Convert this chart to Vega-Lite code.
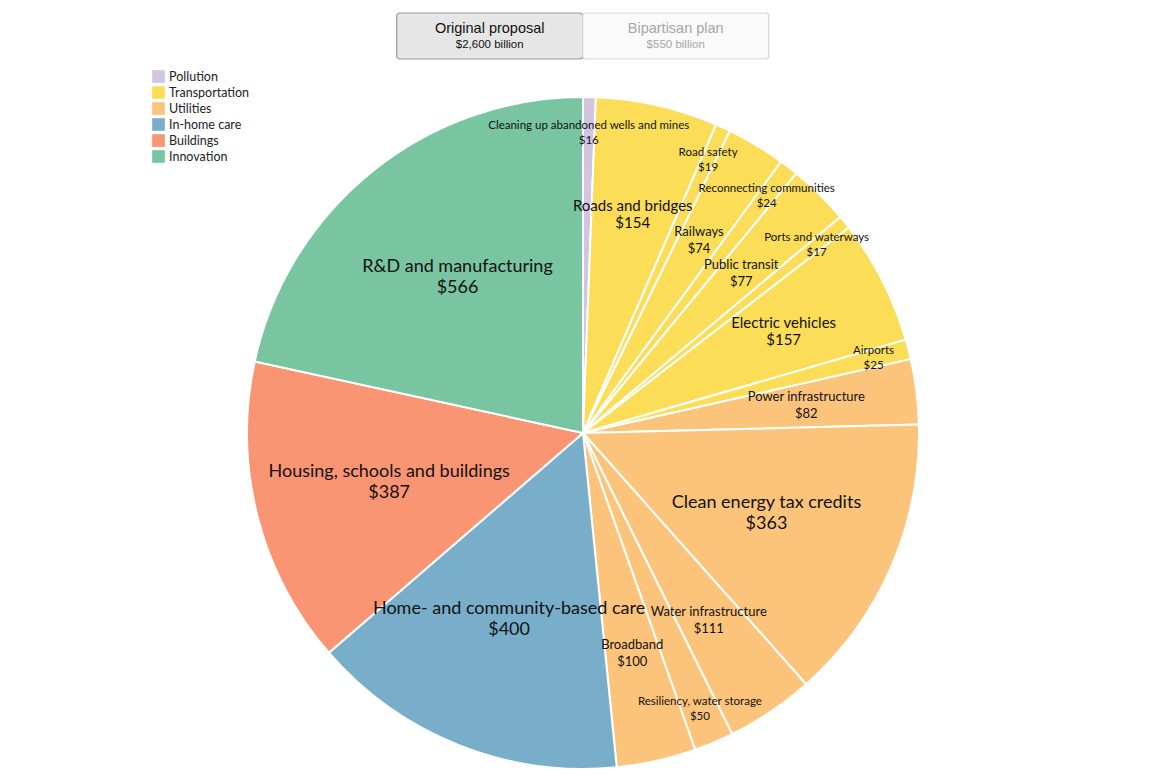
{
  "$schema": "https://vega.github.io/schema/vega-lite/v6.json",
  "padding": {"top": 12, "left": 8, "right": 5, "bottom": 5},
  "background": "white",
  "config": {"view": {"stroke": null}, "font": "Lato", "concat": {"spacing": 30}},
  "center": true,
  "datasets": {
    "plans": [
      {"plan": "Original proposal", "total": "$2,600 billion", "selected": true},
      {"plan": "Bipartisan plan", "total": "$550 billion", "selected": false}
    ],
    "items": [
      {"rank": 1, "category": "Pollution", "item": "Cleaning up abandoned wells and mines", "value": 16},
      {"rank": 2, "category": "Transportation", "item": "Roads and bridges", "value": 154},
      {"rank": 3, "category": "Transportation", "item": "Road safety", "value": 19},
      {"rank": 4, "category": "Transportation", "item": "Railways", "value": 74},
      {"rank": 5, "category": "Transportation", "item": "Reconnecting communities", "value": 24},
      {"rank": 6, "category": "Transportation", "item": "Public transit", "value": 77},
      {"rank": 7, "category": "Transportation", "item": "Ports and waterways", "value": 17},
      {"rank": 8, "category": "Transportation", "item": "Electric vehicles", "value": 157},
      {"rank": 9, "category": "Transportation", "item": "Airports", "value": 25},
      {"rank": 10, "category": "Utilities", "item": "Power infrastructure", "value": 82},
      {"rank": 11, "category": "Utilities", "item": "Clean energy tax credits", "value": 363},
      {"rank": 12, "category": "Utilities", "item": "Water infrastructure", "value": 111},
      {"rank": 13, "category": "Utilities", "item": "Resiliency, water storage", "value": 50},
      {"rank": 14, "category": "Utilities", "item": "Broadband", "value": 100},
      {"rank": 15, "category": "In-home care", "item": "Home- and community-based care", "value": 400},
      {"rank": 16, "category": "Buildings", "item": "Housing, schools and buildings", "value": 387},
      {"rank": 17, "category": "Innovation", "item": "R&D and manufacturing", "value": 566}
    ]
  },
  "vconcat": [
    {
      "width": 372,
      "height": 46,
      "data": {"name": "plans"},
      "encoding": {
        "x": {"field": "plan", "type": "nominal", "sort": null, "axis": null,
              "scale": {"paddingInner": 0, "paddingOuter": 0}}
      },
      "layer": [
        {
          "mark": {"type": "rect", "cornerRadius": 3, "strokeWidth": 1.2},
          "encoding": {
            "fill": {"condition": {"test": "datum.selected", "value": "#e6e6e6"}, "value": "#fafafa"},
            "stroke": {"condition": {"test": "datum.selected", "value": "#9a9a9a"}, "value": "#d6d6d6"}
          }
        },
        {
          "mark": {"type": "text", "dy": -7, "fontSize": 14.5, "font": "Liberation Sans"},
          "encoding": {
            "text": {"field": "plan"},
            "color": {"condition": {"test": "datum.selected", "value": "#111111"}, "value": "#a6a6a6"}
          }
        },
        {
          "mark": {"type": "text", "dy": 9, "fontSize": 11.5, "font": "Liberation Sans"},
          "encoding": {
            "text": {"field": "total"},
            "color": {"condition": {"test": "datum.selected", "value": "#111111"}, "value": "#a6a6a6"}
          }
        }
      ]
    },
    {
      "width": 1150,
      "height": 686,
      "data": {"name": "items"},
      "encoding": {
        "theta": {"field": "value", "type": "quantitative", "stack": true},
        "order": {"field": "rank", "type": "quantitative"}
      },
      "layer": [
        {
          "mark": {"type": "arc", "outerRadius": 336, "stroke": "white", "strokeWidth": 2},
          "encoding": {
            "color": {
              "field": "category", "type": "nominal",
              "scale": {
                "domain": ["Pollution", "Transportation", "Utilities", "In-home care", "Buildings", "Innovation"],
                "range": ["#d1c5df", "#fbdd57", "#fcc47a", "#79aecb", "#fa9574", "#79c5a1"]
              },
              "legend": {
                "title": null, "orient": "none", "legendX": 144, "legendY": 57,
                "symbolType": "square", "symbolSize": 160,
                "symbolStrokeWidth": 0, "labelFontSize": 12.5, "labelColor": "#222222",
                "rowPadding": 3, "padding": 0, "labelFont": "Lato"
              }
            }
          }
        },
        {
          "mark": {
            "type": "text", "color": "#111111",
            "radius": {"expr": "datum.value >= 300 ? 200 : datum.value >= 60 ? 225 : 300"},
            "dy": {"expr": "datum.value >= 300 ? -10 : datum.value >= 60 ? -8 : -7"},
            "fontSize": {"expr": "datum.value >= 300 ? 18 : datum.value >= 150 ? 15 : datum.value >= 60 ? 13 : 11.5"}
          },
          "encoding": {"text": {"field": "item"}}
        },
        {
          "mark": {
            "type": "text", "color": "#111111",
            "radius": {"expr": "datum.value >= 300 ? 200 : datum.value >= 60 ? 225 : 300"},
            "dy": {"expr": "datum.value >= 300 ? 11 : datum.value >= 60 ? 9 : 8"},
            "fontSize": {"expr": "datum.value >= 300 ? 18 : datum.value >= 150 ? 15 : datum.value >= 60 ? 13 : 11.5"}
          },
          "encoding": {"text": {"field": "value", "type": "quantitative", "format": "$d"}}
        }
      ]
    }
  ]
}
